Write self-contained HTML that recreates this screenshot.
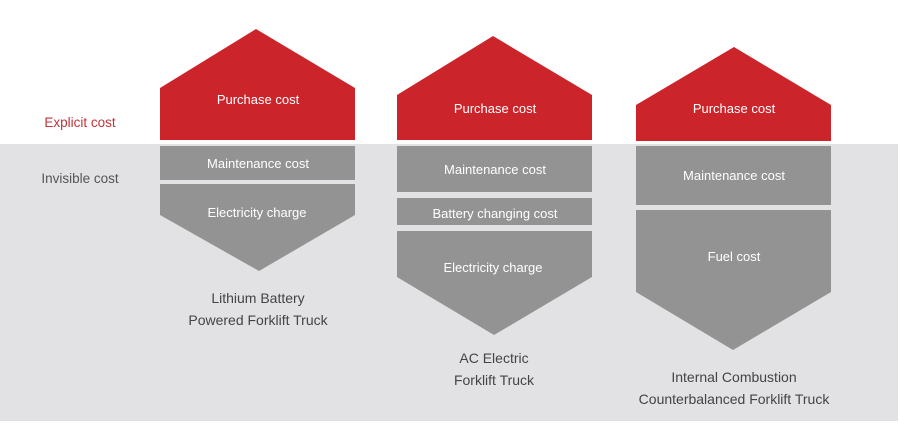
<!DOCTYPE html>
<html><head><meta charset="utf-8"><style>
html,body{margin:0;padding:0;background:#fff;}
svg{display:block;}
text{font-family:"Liberation Sans",sans-serif;}
</style></head><body>
<svg width="900" height="423" viewBox="0 0 900 423" xmlns="http://www.w3.org/2000/svg">
<rect x="0" y="0" width="900" height="423" fill="#fff"/>
<rect x="0" y="144" width="898" height="277" fill="#e2e2e4"/>
<g fill="#cb242b">
<polygon points="160,88 256,29 355,88 355,140 160,140"/>
<polygon points="397,95 493,36 592,95 592,140 397,140"/>
<polygon points="636,105 734,47 831,105 831,141 636,141"/>
</g>
<g fill="#939393">
<rect x="160" y="146" width="195" height="34"/>
<polygon points="160,184 355,184 355,215 259,271 160,215"/>
<rect x="397" y="146" width="195" height="46"/>
<rect x="397" y="198" width="195" height="27"/>
<polygon points="397,231 592,231 592,277 494,335 397,277"/>
<rect x="636" y="146" width="195" height="59"/>
<polygon points="636,210 831,210 831,292 733,350 636,292"/>
</g>
<g fill="#fff" font-size="13" text-anchor="middle">
<text x="258" y="104">Purchase cost</text>
<text x="258" y="168">Maintenance cost</text>
<text x="257" y="217">Electricity charge</text>
<text x="495" y="113">Purchase cost</text>
<text x="495" y="174">Maintenance cost</text>
<text x="495" y="218">Battery changing cost</text>
<text x="493" y="272">Electricity charge</text>
<text x="734" y="113">Purchase cost</text>
<text x="734" y="180">Maintenance cost</text>
<text x="734" y="261">Fuel cost</text>
</g>
<text x="80" y="127" font-size="13.5" fill="#c0343a" text-anchor="middle">Explicit cost</text>
<text x="80" y="183" font-size="13.5" fill="#555" text-anchor="middle">Invisible cost</text>
<g fill="#444" font-size="14" text-anchor="middle">
<text x="258" y="303">Lithium Battery</text>
<text x="258" y="325">Powered Forklift Truck</text>
<text x="494" y="363">AC Electric</text>
<text x="494" y="385">Forklift Truck</text>
<text x="734" y="382">Internal Combustion</text>
<text x="734" y="404">Counterbalanced Forklift Truck</text>
</g>
</svg>
</body></html>
